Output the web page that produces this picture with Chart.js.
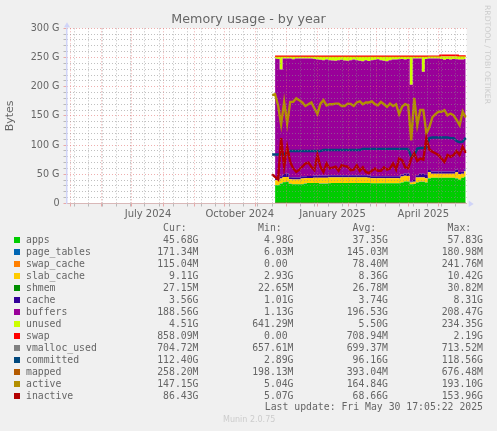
<!DOCTYPE html>
<html>
<head>
<meta charset="utf-8">
<title>Memory usage - by year</title>
<script src="https://cdn.jsdelivr.net/npm/chart.js@4/dist/chart.umd.min.js"></script>
<style>
  html, body { margin: 0; padding: 0; background: #f0f0f0; width: 497px; height: 431px; overflow: hidden; }
  #wrap { position: relative; width: 497px; height: 431px; }
  canvas { position: absolute; left: 0; top: 0; }
  .t { position: absolute; font: 9.8px/12px "DejaVu Sans Mono", monospace; color: #666; white-space: pre; }
  .sw { position: absolute; width: 6px; height: 6px; left: 14px; }
  #title { position: absolute; left: 0; top: 11px; width: 497px; text-align: center; font: 12.7px/16px "DejaVu Sans", sans-serif; color: #666; }
  #rrd { position: absolute; left: 483px; top: 5px; font: 7.7px/9px "DejaVu Sans", sans-serif; color: #ccc;
         white-space: pre; transform-origin: 0 0; transform: translate(9px, 0) rotate(90deg); }
  #ver { position: absolute; left: 223px; top: 415px; font: 8px/10px "DejaVu Sans", sans-serif; color: #ccc; }
</style>
</head>
<body>
<div id="wrap">
  <canvas id="c" width="497" height="431"></canvas>
  <div id="title">Memory usage - by year</div>
  <div id="rrd">RRDTOOL / TOBI OETIKER</div>
  <div id="ver">Munin 2.0.75</div>
</div>
<script>
// every 3 days, first point only has the line series
const dates = [
  '2024-11-17','2024-11-20','2024-11-23','2024-11-26','2024-11-29',
  '2024-12-02','2024-12-05','2024-12-08','2024-12-11','2024-12-14','2024-12-17','2024-12-20','2024-12-23','2024-12-26','2024-12-29',
  '2025-01-01','2025-01-04','2025-01-07','2025-01-10','2025-01-13','2025-01-16','2025-01-19','2025-01-22','2025-01-25','2025-01-28','2025-01-31',
  '2025-02-03','2025-02-06','2025-02-09','2025-02-12','2025-02-15','2025-02-18','2025-02-21','2025-02-24','2025-02-27',
  '2025-03-02','2025-03-05','2025-03-08','2025-03-11','2025-03-14','2025-03-17','2025-03-20','2025-03-23','2025-03-26','2025-03-29',
  '2025-04-01','2025-04-04','2025-04-07','2025-04-10','2025-04-13','2025-04-16','2025-04-19','2025-04-22','2025-04-25','2025-04-28',
  '2025-05-01','2025-05-04','2025-05-07','2025-05-10','2025-05-13','2025-05-16','2025-05-19','2025-05-22','2025-05-25','2025-05-28'
];

// values in GB
const apps = [null,31.4,31.4,34,36.5,37,33.5,33,33,33,33,34,35,35,35,35,34,34,34,34.5,35,35,35,35,35,35,35,35,35,35,35,35,35,34.5,34.5,34.5,34.5,34.5,34.5,34.5,34.5,34.5,34.5,36,37.5,37.5,33,33.5,36,37,37,36,43,44,44,44,44,44,44,44,44,43,41,44,45.68];
const pageTables = [null,.15,.15,.15,.15,.15,.15,.15,.15,.15,.15,.15,.15,.15,.15,.15,.15,.15,.15,.15,.15,.15,.15,.15,.15,.15,.15,.15,.15,.15,.15,.15,.15,.15,.15,.15,.15,.15,.15,.15,.15,.15,.15,.15,.15,.15,.01,.05,.14,.15,.15,.15,.17,.17,.17,.17,.17,.17,.17,.17,.17,.17,.17,.17,.17];
const swapCache = [null,.08,.08,.08,.08,.08,.08,.08,.08,.08,.08,.08,.08,.08,.08,.08,.08,.08,.08,.08,.08,.08,.08,.08,.08,.08,.08,.08,.08,.08,.08,.08,.08,.08,.08,.08,.08,.08,.08,.08,.08,.08,.08,.08,.08,.08,0,.02,.08,.08,.08,.08,.1,.1,.1,.1,.1,.1,.1,.1,.1,.1,.1,.1,.11];
const slabCache = [null,8.3,8.3,8.7,8.8,8.3,7.7,7.8,7.8,7.8,9.7,9,8.5,8.5,9,9,10,10,10,10,9.5,9.5,9.5,9.5,9.5,9.5,9.5,9.5,9.5,9.5,9.5,9.5,9,8.5,8.5,8.5,8.5,8.5,8.5,8.5,8.5,8.5,8.5,10,9.7,9.5,3,3.5,8.2,7.5,7.5,7,10.4,6.5,6.5,6.5,6.5,6.5,6.5,6.5,6.5,10.4,9,6.5,9.11];
const shmem = [null,.03,.03,.03,.03,.03,.03,.03,.03,.03,.03,.03,.03,.03,.03,.03,.03,.03,.03,.03,.03,.03,.03,.03,.03,.03,.03,.03,.03,.03,.03,.03,.03,.03,.03,.03,.03,.03,.03,.03,.03,.03,.03,.03,.03,.03,.02,.02,.03,.03,.03,.03,.03,.03,.03,.03,.03,.03,.03,.03,.03,.03,.03,.03,.03];
const cache = [null,3.5,3.5,3.5,5,6,3.5,3.5,3.5,3.5,3.5,3.5,3.5,3.5,3.5,3.5,3.5,3.5,3.5,3.5,3.5,3.5,3.5,3.5,3.5,3.5,3.5,3.5,3.5,3.5,3.5,3.5,3.5,3.5,3.5,3.5,3.5,3.5,3.5,3.5,3.5,3.5,3.5,3.5,4,4,1.5,3,4,6,6,7,3.5,4,4,4,4,4,4,4,4,4,3.5,3.5,3.56];
const buffers = [null,205,204,183,197.9,196.9,203.5,202.4,203.9,203.9,202,201.7,201.2,201.2,199.7,198.7,198.2,197.7,198.7,197.2,196.7,196.2,197.2,197.7,196.7,196.2,197.2,198.2,197.2,196.2,195.2,197.2,196.2,198.7,199.2,200.2,198.7,197.7,196.7,198.7,199.7,199.7,200.2,197.7,195,196.2,165.7,208.2,200,197.7,174.7,197.2,191.3,193.7,193.7,193.7,192.7,191.2,192.7,191.7,192.7,189.3,192.7,192.2,188.56];
const unused = [null,3,4,22,3,3,3,4.5,3,3,3,3,3,3,4,5,5.5,6,5,6,6.5,7,6,5.5,6.5,7,6,5,6,7,8,6,7.5,6,5.5,4.5,6,7,8,6,5,5,4.5,4,5,4,48,3,3,3,26,4,3,3,3,3,4,5.5,4,5,4,4.5,5,5,4.51];
const swap = [null,.7,.7,.7,.7,.7,.7,.7,.7,.7,.7,.7,.7,.7,.7,.7,.7,.7,.7,.7,.7,.7,.7,.7,.7,.7,.7,.7,.7,.7,.7,.7,.7,.7,.7,.7,.7,.7,.7,.7,.7,.7,.7,.7,.7,.7,.7,.7,.7,.7,.7,.7,.7,.7,.7,.7,2.19,2.19,2.19,2.19,2.19,2.19,.86,.86,.86];
const vmallocUsed = [null,.7,.7,.7,.7,.7,.7,.7,.7,.7,.7,.7,.7,.7,.7,.7,.7,.7,.7,.7,.7,.7,.7,.7,.7,.7,.7,.7,.7,.7,.7,.7,.7,.7,.7,.7,.7,.7,.7,.7,.7,.7,.7,.7,.7,.7,.7,.7,.7,.7,.7,.7,.7,.7,.7,.7,.7,.7,.7,.7,.7,.7,.7,.7,.7];
const committed = [84,84,84,84.5,84.5,88,90,90,90,90,90,90,90,90,90,90,90,91.5,91.5,91.5,91.5,91.5,91.5,91.5,91.5,91.5,91.5,91.5,91.5,91.5,93.6,93.6,93.6,93.6,93.6,93.6,93.6,93.6,93.6,93.6,93.6,93.6,93.6,93.6,93.6,93.6,80,82,94,95,95,95,112,113,113,113,113,113,113,112,112,107,105,106,112.4];
const mapped = [null,.3,.3,.3,.3,.3,.3,.3,.3,.3,.3,.3,.3,.3,.3,.3,.3,.3,.3,.3,.3,.3,.3,.3,.3,.3,.3,.3,.3,.3,.3,.3,.3,.3,.3,.3,.3,.3,.3,.3,.3,.3,.3,.3,.3,.3,.3,.3,.4,.4,.4,.4,.4,.4,.4,.4,.4,.4,.4,.4,.4,.3,.3,.3,.26];
const active = [185.6,187,168,135,174,137,174,174,180,177,173,167,170,173,163,153,171,177,168,170,170,171,171,167,167,171,170.5,167,173,175,170,173,173,175,170,168,174,170,165.6,171,167,170,153,166,170,168,108,181,134,160,160,120,131,148,153,157,157,160,151,154,151,143,134,157,147.15];
const inactive = [50,45.6,41,112,62.8,97,71,60,54,58,63,68.5,70,63,57,83,63,54,68.5,60,61.5,63,56,65.6,64,63,57,58,65.6,56,62,54,52,56,60,56,56,62,58,60,68.5,58,77,74,62,60,77,86,73,77,75,112,92.5,88.5,86,83,77,71,83,80,83,90,83,97,86.43];

// legend table
const names = ['apps','page_tables','swap_cache','slab_cache','shmem','cache','buffers','unused','swap','vmalloc_used','committed','mapped','active','inactive'];
const colors = ['#00CC00','#0066B3','#FF8000','#FFCC00','#008F00','#330099','#990099','#CCFF00','#FF0000','#808080','#00487D','#B35A00','#B38F00','#B30000'];
const curVals = ['45.68G','171.34M','115.04M','9.11G','27.15M','3.56G','188.56G','4.51G','858.09M','704.72M','112.40G','258.20M','147.15G','86.43G'];
const minVals = ['4.98G','6.03M','0.00 ','2.93G','22.65M','1.01G','1.13G','641.29M','0.00 ','657.61M','2.89G','198.13M','5.04G','5.07G'];
const avgVals = ['37.35G','145.03M','78.40M','8.36G','26.78M','3.74G','196.53G','5.50G','708.94M','699.37M','96.16G','393.04M','164.84G','68.66G'];
const maxVals = ['57.83G','180.98M','241.76M','10.42G','30.82M','8.31G','208.47G','234.35G','2.19G','713.52M','118.56G','676.48M','193.10G','153.96G'];

// axis ticks
const yMajor = [0, 50, 100, 150, 200, 250, 300];
const yMinor = [10,20,30,40,60,70,80,90,110,120,130,140,160,170,180,190,210,220,230,240,260,270,280,290];
const monthStarts = ['2024-05-01','2024-06-01','2024-07-01','2024-08-01','2024-09-01','2024-10-01','2024-11-01','2024-12-01','2025-01-01','2025-02-01','2025-03-01','2025-04-01','2025-05-01'];
const xLabelDates = ['2024-07-17','2024-10-16','2025-01-16','2025-04-16'];
const xLabels = ['July 2024','October 2024','January 2025','April 2025'];

const dayNo = s => (Date.parse(s) - Date.parse('2024-07-01')) / 86400000;
const monthDays = monthStarts.map(dayNo);
const labelDays = xLabelDates.map(dayNo);
const weekDays = [];
for (let d = -57; d < 332; d += 14) if (!monthDays.includes(d)) weekDays.push(d);

const seriesData = [apps, pageTables, swapCache, slabCache, shmem, cache, buffers, unused, swap, vmallocUsed, committed, mapped, active, inactive];
const xs = dates.map(dayNo);
const areaCount = 9;

// chart.js stacks in 'order' too, so areas go up from apps and lines stay above them
const datasets = names.map((name, i) => {
  const isArea = i < areaCount;
  return {
    label: name,
    data: seriesData[i].map((v, k) => ({ x: xs[k], y: v })),
    borderColor: colors[i],
    backgroundColor: colors[i],
    borderWidth: isArea ? (name === 'swap' ? 1.5 : 0) : (name === 'vmalloc_used' || name === 'mapped' ? 1 : 2.4),
    pointRadius: 0,
    tension: 0,
    stepped: isArea ? 'middle' : false,
    stack: isArea ? 'mem' : name,
    fill: isArea ? (i === 0 ? 'origin' : '-1') : false,
    order: isArea ? 10 + i : names.length - i
  };
});

const GRID_RED = 'rgba(225,110,110,0.55)';
const GRID_GREY = 'rgba(140,140,140,0.55)';

const frame = {
  id: 'frame',
  beforeDatasetsDraw(chart) {
    const a = chart.chartArea, g = chart.ctx;
    g.save();
    g.globalCompositeOperation = 'destination-over';
    g.fillStyle = '#fff';
    g.fillRect(a.left, a.top, a.right - a.left, a.bottom - a.top);
    g.restore();
  },
  afterDraw(chart) {
    // rrdtool axis arrows
    const a = chart.chartArea, g = chart.ctx;
    g.save();
    g.strokeStyle = g.fillStyle = '#d0d4f8';
    g.beginPath();
    g.moveTo(a.left + 0.5, a.bottom);
    g.lineTo(a.left + 0.5, a.top - 3);
    g.stroke();
    g.beginPath();
    g.moveTo(a.left - 2.5, a.top - 1);
    g.lineTo(a.left + 3.5, a.top - 1);
    g.lineTo(a.left + 0.5, a.top - 6);
    g.fill();
    g.beginPath();
    g.moveTo(a.right + 2, a.bottom - 3);
    g.lineTo(a.right + 2, a.bottom + 3.5);
    g.lineTo(a.right + 7, a.bottom + 0.5);
    g.fill();
    g.restore();
  }
};

new Chart(document.getElementById('c'), {
  type: 'line',
  data: { datasets },
  plugins: [frame],
  options: {
    responsive: false,
    animation: false,
    parsing: { xAxisKey: 'x', yAxisKey: 'y' },
    layout: { padding: { top: 28.3, right: 30.3 } },
    plugins: {
      legend: { display: false },
      tooltip: { enabled: false }
    },
    scales: {
      x: {
        type: 'linear',
        min: -64.8,
        max: 332,
        afterBuildTicks(s) {
          s.ticks = [...weekDays, ...monthDays, ...labelDays].map(v => ({ value: v }));
        },
        afterFit(s) { s.height = 227.5; },
        ticks: {
          autoSkip: false,
          maxRotation: 0,
          color: '#666',
          padding: 2,
          font: { family: 'DejaVu Sans', size: 10 },
          callback: v => {
            const k = labelDays.indexOf(v);
            return k >= 0 ? xLabels[k] : '';
          }
        },
        border: { color: '#d9b8b8', z: 2, dash: [1, 2] },
        grid: {
          z: 1,
          tickLength: 3,
          color: c => labelDays.includes(c.tick.value) ? 'transparent' : monthDays.includes(c.tick.value) ? GRID_RED : GRID_GREY,
          tickColor: c => labelDays.includes(c.tick.value) ? 'transparent' : monthDays.includes(c.tick.value) ? GRID_RED : GRID_GREY
        }
      },
      y: {
        stacked: true,
        min: 0,
        max: 300,
        afterBuildTicks(s) {
          s.ticks = [...yMajor, ...yMinor].sort((a, b) => a - b).map(v => ({ value: v }));
        },
        afterFit(s) { s.width = 66.5; },
        title: {
          display: true,
          text: 'Bytes',
          color: '#666',
          font: { family: 'DejaVu Sans', size: 11 },
          padding: { top: 4, bottom: 0 }
        },
        ticks: {
          autoSkip: false,
          color: '#666',
          padding: 4,
          font: { family: 'DejaVu Sans', size: 9.6 },
          callback: v => yMajor.includes(v) ? (v === 0 ? '0' : v + ' G') : ''
        },
        border: { color: '#d0d4f8', z: 2, dash: [1, 2] },
        grid: {
          z: 1,
          tickLength: 3,
          color: c => yMajor.includes(c.tick.value) ? GRID_RED : GRID_GREY,
          tickColor: c => yMajor.includes(c.tick.value) ? GRID_RED : GRID_GREY
        }
      }
    }
  }
});

// legend table as text below the plot
const wrap = document.getElementById('wrap');
function addText(str, top, opts) {
  const el = document.createElement('div');
  el.className = 't';
  el.textContent = str;
  el.style.top = top + 'px';
  if (opts.left !== undefined) el.style.left = opts.left + 'px';
  if (opts.right !== undefined) el.style.right = (497 - opts.right) + 'px';
  wrap.appendChild(el);
}
const colRight = [198.5, 293.5, 388, 483];
['Cur:', 'Min:', 'Avg:', 'Max:'].forEach((h, i) => addText(h + '  ', 222, { right: colRight[i] }));
names.forEach((name, i) => {
  const top = 234 + i * 12;
  const sw = document.createElement('div');
  sw.className = 'sw';
  sw.style.top = (top + 3) + 'px';
  sw.style.background = colors[i];
  wrap.appendChild(sw);
  addText(name, top, { left: 26 });
  [curVals, minVals, avgVals, maxVals].forEach((col, c) => addText(col[i], top, { right: colRight[c] }));
});
addText('Last update: Fri May 30 17:05:22 2025', 401, { right: 483 });
</script>
</body>
</html>
